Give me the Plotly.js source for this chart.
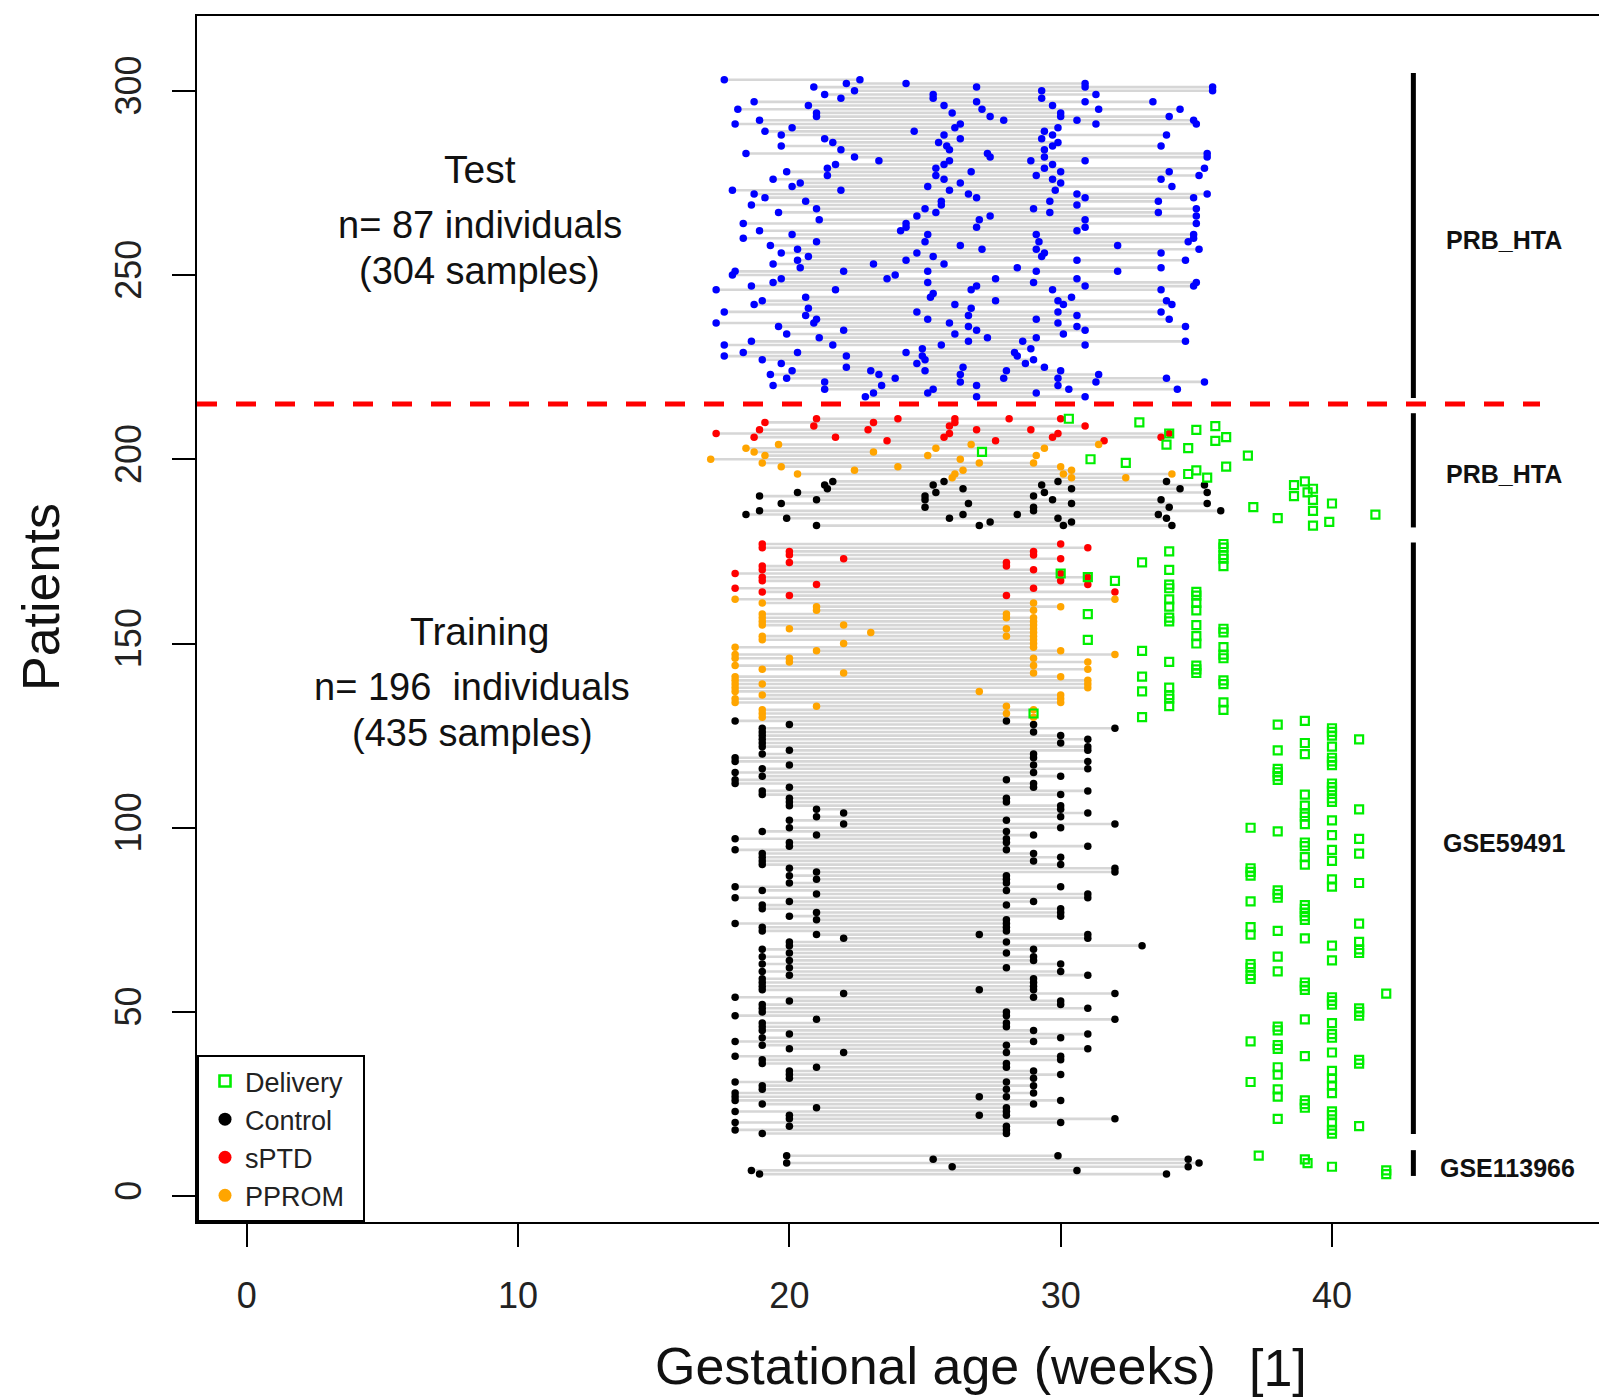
<!DOCTYPE html>
<html><head><meta charset="utf-8">
<script src="https://cdn.plot.ly/plotly-3.0.1.min.js"></script>
<style>html,body{margin:0;padding:0;overflow:hidden;background:#fff;width:1599px;height:1398px}#chart{width:1680px;height:1398px}</style>
</head><body><div id="chart"></div>
<script>
// ---------------- DATA ----------------
// Test cohort (PRB_HTA), patient index and sampling gestational ages (weeks)
const testY = [303,302,301,300,299,298,297,296,295,294,293,292,291,290,289,288,287,286,285,284,283,282,281,280,279,278,277,276,275,274,273,272,271,270,269,268,267,266,265,264,263,262,261,260,259,258,257,256,255,254,253,252,251,250,249,248,247,246,245,244,243,242,241,240,239,238,237,236,235,234,233,232,231,230,229,228,227,226,225,224,223,222,221,220,219,218,217];
const testGA = [
[17.6,22.6],[22.1,24.3,30.9],[20.9,26.9,30.9,35.6],[22.4,29.3,35.6],[21.3,25.3,31.3],[21.9,25.3,29.3],
[18.7,26.9,30.9,33.4],[20.7,25.7,29.7],[18.1,27.1,31.4,34.4],[21.0,26.0,30.0],[21.0,27.4,30.0,34.0],
[18.9,27.9,30.6,34.9],[18.0,26.3,31.3,35.0],[20.1,26.1,29.9],[19.1,24.6,29.4],[19.7,25.7,29.7,33.9],
[21.3,26.3,29.3],[21.6,25.5,29.9],[19.7,25.8,29.7,33.7],[21.9,25.9,29.4],[18.4,27.3,35.4],
[22.4,27.4,29.4,35.4],[23.3,25.9,28.9,30.9],[21.7,25.7,29.7],[21.4,25.4,29.4,35.3],[19.9,26.7,30.0,34.0],
[21.4,25.4,29.1,35.1],[19.4,25.7,29.7,33.7],[20.4,26.3,30.0],[20.1,25.1,34.1],[17.9,21.9,25.9,29.8],
[18.7,26.6,30.6,35.4],[19.1,26.9,30.9,34.9],[20.6,25.6,29.6,33.6],[18.6,25.6,30.6],[21.0,25.0,29.0,35.0],
[19.6,25.4,29.6,33.6],[24.7,27.4,35.0],[21.1,27.0,30.9],[18.3,24.3,35.0],[24.3,26.9,30.9],[18.9,24.1,30.6],
[20.1,25.1,29.1,34.9],[18.3,34.9],[21.0,25.0,29.2,34.7],[19.3,26.3,32.1],[20.3,27.1,29.1,35.1],
[19.7,24.7,29.4,33.7],[20.7,25.3,29.3],[20.3,24.3,30.6,34.6],[19.4,23.1,25.7],[20.4,28.4,33.7],
[18.0,22.0,25.1,29.1,32.1],[17.9,23.9],[19.7,23.6,27.6,30.6],[19.4,25.1,29.0,35.0],[18.6,26.9,30.9,34.9],
[17.3,21.7,26.7,29.7,33.7],[25.3],[20.6,25.2,30.4],[19.0,27.6,29.9,33.9],[18.7,26.1,30.1,34.1],
[20.7,26.7],[17.6,24.7,29.9,33.7],[20.6,26.6,30.6],[21.0,25.1,29.1,34.0],[17.3,20.9,25.9,29.9],
[19.6,26.6,30.6,34.6],[22.0,26.9,30.9],[19.9,26.1,30.1],[21.1,27.3,29.1],[18.6,26.6,28.6,34.6],
[17.6,21.6,25.6,30.9],[24.9,28.9],[18.3,20.3,24.3,28.3],[17.6,22.1,24.9,28.4],[19.0,25.0,29.0],
[19.7,24.7,28.7],[22.1,26.4,29.4],[20.1,23.0,25.0,28.0,30.0],[19.3,23.3,26.3,31.4],
[19.9,23.9,27.9,29.9,33.9],[21.3,26.3,31.3,35.3],[19.4,23.4,26.9,29.9],[21.3,25.3,30.3,34.3],
[23.1,25.1,29.1],[22.8,26.9,30.9]];

// Training: PRB_HTA
const prbY = [211,210,209,208,207,206,205,204,203,202,201,200,199,198,197,196,195,194,193,192,191,190,189,188,187,186,185,184,183,182];
const prbGroup = ['sPTD','sPTD','sPTD','sPTD','sPTD','sPTD','sPTD','PPROM','PPROM','PPROM','PPROM','PPROM','PPROM','PPROM','PPROM','PPROM','PPROM','Control','Control','Control','Control','Control','Control','Control','Control','Control','Control','Control','Control','Control'];
const prbGA = [
[21.0,24.0,26.1,28.1,30.0],[19.1,23.1,26.1],[20.9,25.9,30.9],[18.9,22.9,26.9,28.9],[17.3,25.9,29.9,34.0],
[18.7,21.7,25.7,29.7,33.7],[23.6,27.6,31.6],
[19.6,26.7,31.4],[18.4,25.4,29.4],[18.7,23.1],[19.1,25.1,29.1],[17.1,26.3],[19.0,27.0,29.0],[19.7,24.0,30.0],
[22.4,26.4,30.4],[20.3,26.1,30.1,34.1],[26.0,30.4,32.4],
[21.6,25.7,29.9,33.9],[21.3,25.3,29.3,35.3],[21.4,26.4,30.4,34.4],[20.3,25.4,29.4,35.4],[18.9,25.0,29.0],
[21.0,25.0,29.7,33.7],[19.7,26.6,30.4,35.4],[25.0,29.0,34.0],[18.9,29.0,35.9],[18.4,26.4,28.4,33.6],
[19.9,25.9,29.9,33.9],[27.4,30.4],[21.0,27.0,30.1,34.1]];
const prbDelivery = [30.3,32.9,35.7,35.0,34.0,36.1,35.7,33.9,34.7,27.1,36.9,31.1,32.4,36.1,35.0,34.7,35.4,39.0,38.6,39.3,39.1,38.6,39.3,40.0,37.1,39.3,41.6,38.0,39.9,39.3];

// Training: GSE59491 – sPTD
const gsePtdY = [177,176,175,174,173,172,171,170,169,168,167,166,165,164,163];
const gsePtdGA = [[19,30],[19,31],[20,29],[20,29],[22,30],[20,28],[19,28],[19,29],[18,30],[19,31],[19,30],[21,31],[18,29],[19,32],[20,28]];
const gsePtdDelivery = [36,36,34,36,36,33,36,34,30,31,32,34,34,35,35];

// Training: GSE59491 – PPROM
const gsePpromY = [162,161,160,159,158,157,156,155,154,153,152,151,150,149,148,147,146,145,144,143,142,141,140,139,138,137,136,135,134,133,132,131,130];
const gsePpromGA = [[18,32],[19,29],[21,30],[21,29],[19,28],[19,28,29],[19,29],[19,22,29],[20,28,29],[23,29],[19,28,29],[19,29],[22,29],[18,29],[21,30],[18,32],[18,20,29],[20,31],[18,29],[19,31],[22,29],[18,30],[18,31],[18,19,31],[18,31],[18,27],[19,30],[18,30],[18,30],[21,28],[19,29],[19,28],[19,29]];
const gsePpromDelivery = [34,35,34,35,31,34,34,35,36,36,35,31,35,36,33,36,36,34,35,35,35,33,36,36,34,33,34,34,36,34,36,29,33];

// Training: GSE59491 – Control
const gseCtrlY = [129,128,127,126,125,124,123,122,121,120,119,118,117,116,115,114,113,112,111,110,109,108,107,106,105,104,103,102,101,100,99,98,97,96,95,94,93,92,91,90,89,88,87,86,85,84,83,82,81,80,79,78,77,76,75,74,73,72,71,70,69,68,67,66,65,64,63,62,61,60,59,58,57,56,55,54,53,52,51,50,49,48,47,46,45,44,43,42,41,40,39,38,37,36,35,34,33,32,31,30,29,28,27,26,25,24,23,22,21,20,19,18,17];
const gseCtrlGA = [[18,28],[20,29],[19,32],[19,29],[19,30],[19,31],[19,30],[19,31],[20,31],[19,29],[18,29],[18,31],[20,29],[19,31],[18,29],[19,30],[18,28],[18,29],[20,29],[19,31],[19,30],[20,28],[20,28],[20,30],[21,30],[22,31],[21,30],[20,28],[22,32],[20,30],[19,28],[21,29],[18,28],[20,28],[20,31],[18,28],[19,29],[19,30],[19,29],[19,30],[20,32],[21,32],[20,28],[21,28],[20,28],[18,30],[19,28],[21,31],[18,31],[20,29],[19,28],[19,30],[21,30],[20,30],[21,28],[18,28],[19,28],[19,28],[21,27,31],[22,31],[20,28],[20,33],[19,29],[20,28],[19,29],[20,29],[19,30],[20,28],[19,30],[20,31],[19,29],[19,29],[19,29],[19,27,29],[22,32],[18,29],[20,30],[19,30],[19,31],[19,28],[18,28],[21,32],[19,28],[19,28],[19,29],[20,31],[19,30],[18,29],[19,28],[20,31],[22,28],[18,30],[19,30],[19,28],[21,28],[20,29],[20,30],[20,29],[18,28],[19,29],[19,28],[18,29],[18,27,28],[18,30],[19,29],[21,28],[18,28],[20,27,28],[20,32],[18,30],[20,28],[18,28],[19,28]];
const gseCtrlDelivery = [39,38,40,40,40,41,39,40,38,39,40,40,40,38,38,38,38,40,40,40,39,40,40,39,41,39,39,40,39,37,38,40,41,39,39,40,41,39,40,39,37,37,37,40,41,40,38,38,38,37,39,39,39,39,39,41,37,38,37,39,41,40,41,41,38,40,37,37,38,37,37,39,39,39,42,40,40,40,41,41,41,39,40,38,38,40,40,37,38,38,40,39,41,41,38,40,38,40,37,40,38,40,38,39,39,39,40,40,38,40,41,40,40];

// Training: GSE113966 – Control
const gse113Y = [11,10,9,8,7,6];
const gse113GA = [[19.9,29.9],[25.3,34.7],[19.9,35.1],[26.0,34.7],[18.6,30.6],[18.9,33.9]];
const gse113Delivery = [37.3,39.0,39.1,40.0,42.0,42.0];

// Cohort brackets (patient index range) and labels
const cohortLabels = ['PRB_HTA','PRB_HTA','GSE59491','GSE113966'];
const cohortFrom = [216.6,181.5,16.9,5.5];
const cohortTo   = [304.8,212.5,177.4,12.5];
const splitLine = 215;   // test / training separation

const xTicks = [0,10,20,30,40];
const yTicks = [0,50,100,150,200,250,300];
const legendNames = ['Delivery','Control','sPTD','PPROM'];

// ---------------- BUILD ----------------
const segX = [], segY = [];
const dots = {Test:{x:[],y:[]}, Control:{x:[],y:[]}, sPTD:{x:[],y:[]}, PPROM:{x:[],y:[]}};
const del = {x:[], y:[]};
function addRows(ys, gas, group, dels){
  ys.forEach((yv,i)=>{
    const g = gas[i];
    const grp = Array.isArray(group) ? group[i] : group;
    segX.push(Math.min(...g), Math.max(...g), null);
    segY.push(yv, yv, null);
    g.forEach(v=>{ dots[grp].x.push(v); dots[grp].y.push(yv); });
    if (dels) { del.x.push(dels[i]); del.y.push(yv); }
  });
}
addRows(testY, testGA, 'Test', null);
addRows(prbY, prbGA, prbGroup, prbDelivery);
addRows(gsePtdY, gsePtdGA, 'sPTD', gsePtdDelivery);
addRows(gsePpromY, gsePpromGA, 'PPROM', gsePpromDelivery);
addRows(gseCtrlY, gseCtrlGA, 'Control', gseCtrlDelivery);
addRows(gse113Y, gse113GA, 'Control', gse113Delivery);

const FONT = '"Liberation Sans", Arial, sans-serif';
const DOT = 7.5;
const COL = {Control:'#000000', sPTD:'#ff0000', PPROM:'#ffa500', Test:'#0000ff', Delivery:'#00ee00'};
const traces = [
  {type:'scatter', mode:'lines', x:segX, y:segY, line:{color:'#d6d6d6', width:2.6}, hoverinfo:'skip', showlegend:false},
  {type:'scatter', mode:'markers', x:dots.Test.x, y:dots.Test.y, marker:{color:COL.Test, size:DOT}, showlegend:false},
  {type:'scatter', mode:'markers', x:dots.Control.x, y:dots.Control.y, marker:{color:COL.Control, size:DOT}, showlegend:false},
  {type:'scatter', mode:'markers', x:dots.sPTD.x, y:dots.sPTD.y, marker:{color:COL.sPTD, size:DOT}, showlegend:false},
  {type:'scatter', mode:'markers', x:dots.PPROM.x, y:dots.PPROM.y, marker:{color:COL.PPROM, size:DOT}, showlegend:false},
  {type:'scatter', mode:'markers', x:del.x, y:del.y, marker:{symbol:'square-open', color:COL.Delivery, size:8, line:{color:COL.Delivery, width:2.2}}, showlegend:false}
];
// legend entries (larger key symbols, as in the original legend)
legendNames.forEach((n,i)=>{
  const isDel = n === 'Delivery';
  traces.push({type:'scatter', mode:'markers', x:[null], y:[null], name: isDel ? n + '\u00a0\u00a0' : n, legendrank:i+1, showlegend:true,
    marker: isDel ? {symbol:'square-open', color:COL.Delivery, size:11, line:{color:COL.Delivery, width:2.6}} : {color:COL[n], size:13}});
});

// layout geometry (pixels)
const W = 1680, H = 1398, ML = 197, MR = 7, MT = 16, MB = 176;
const PW = W - ML - MR, PH = H - MT - MB;
const pxX = p => (p - ML) / PW;
const pxY = p => (H - MB - p) / PH;

const ann = [];
function txt(t, x, y, size, opts){
  ann.push(Object.assign({text:t, xref:'paper', yref:'paper', x:pxX(x), y:pxY(y), xanchor:'center', yanchor:'middle', showarrow:false, font:{family:FONT, size:size, color:'#111'}}, opts||{}));
}
txt('Test', 480, 169, 39);
txt('n= 87 individuals', 480, 225, 38);
txt('(304 samples)', 479, 271, 38);
txt('Training', 479, 631, 39);
txt('n= 196\u00a0 individuals', 472, 687, 38);
txt('(435 samples)', 472, 733, 38);
const labelPos = [[1504,240],[1504,474],[1504,843],[1507,1168]];
cohortLabels.forEach((l,i)=> txt('<b>'+l+'</b>', labelPos[i][0], labelPos[i][1], 25));
txt('Patients', 41, 597, 52, {textangle:-90});
txt('Gestational age (weeks)', 935, 1366, 52);
txt('[1]', 1278, 1368, 52);

const shapes = cohortFrom.map((f,i)=>({type:'line', xref:'x', yref:'y', x0:43, x1:43, y0:f, y1:cohortTo[i], line:{color:'#000', width:5}}));
shapes.push({type:'line', xref:'paper', yref:'y', x0:0, x1:pxX(1540), y0:splitLine, y1:splitLine, line:{color:'#ff0000', width:5, dash:'20px,19px'}});

const axisCommon = {showline:true, linecolor:'#000', linewidth:2, mirror:true, ticks:'outside', ticklen:23, tickwidth:2, tickcolor:'#000', showgrid:false, zeroline:false, tickfont:{family:FONT, size:36, color:'#222'}};
const layout = {
  width:W, height:H, margin:{l:ML, r:MR, t:MT, b:MB},
  paper_bgcolor:'#fff', plot_bgcolor:'#fff',
  font:{family:FONT},
  xaxis:Object.assign({range:[-1.835, 52.57], tickvals:xTicks, ticktext:xTicks.map(String), ticklabelstandoff:18}, axisCommon),
  yaxis:Object.assign({range:[-7.0, 320.3], tickvals:yTicks, ticktext:yTicks.map(String), tickangle:-90, ticklabelstandoff:17}, axisCommon),
  showlegend:true,
  legend:{x:0, y:0, xanchor:'left', yanchor:'bottom', bgcolor:'#fff', bordercolor:'#000', borderwidth:2, font:{family:FONT, size:27, color:'#222'}, itemsizing:'trace', traceorder:'normal', indentation:6},
  annotations:ann, shapes:shapes
};
Plotly.newPlot('chart', traces, layout, {displayModeBar:false, staticPlot:true});
</script></body></html>
